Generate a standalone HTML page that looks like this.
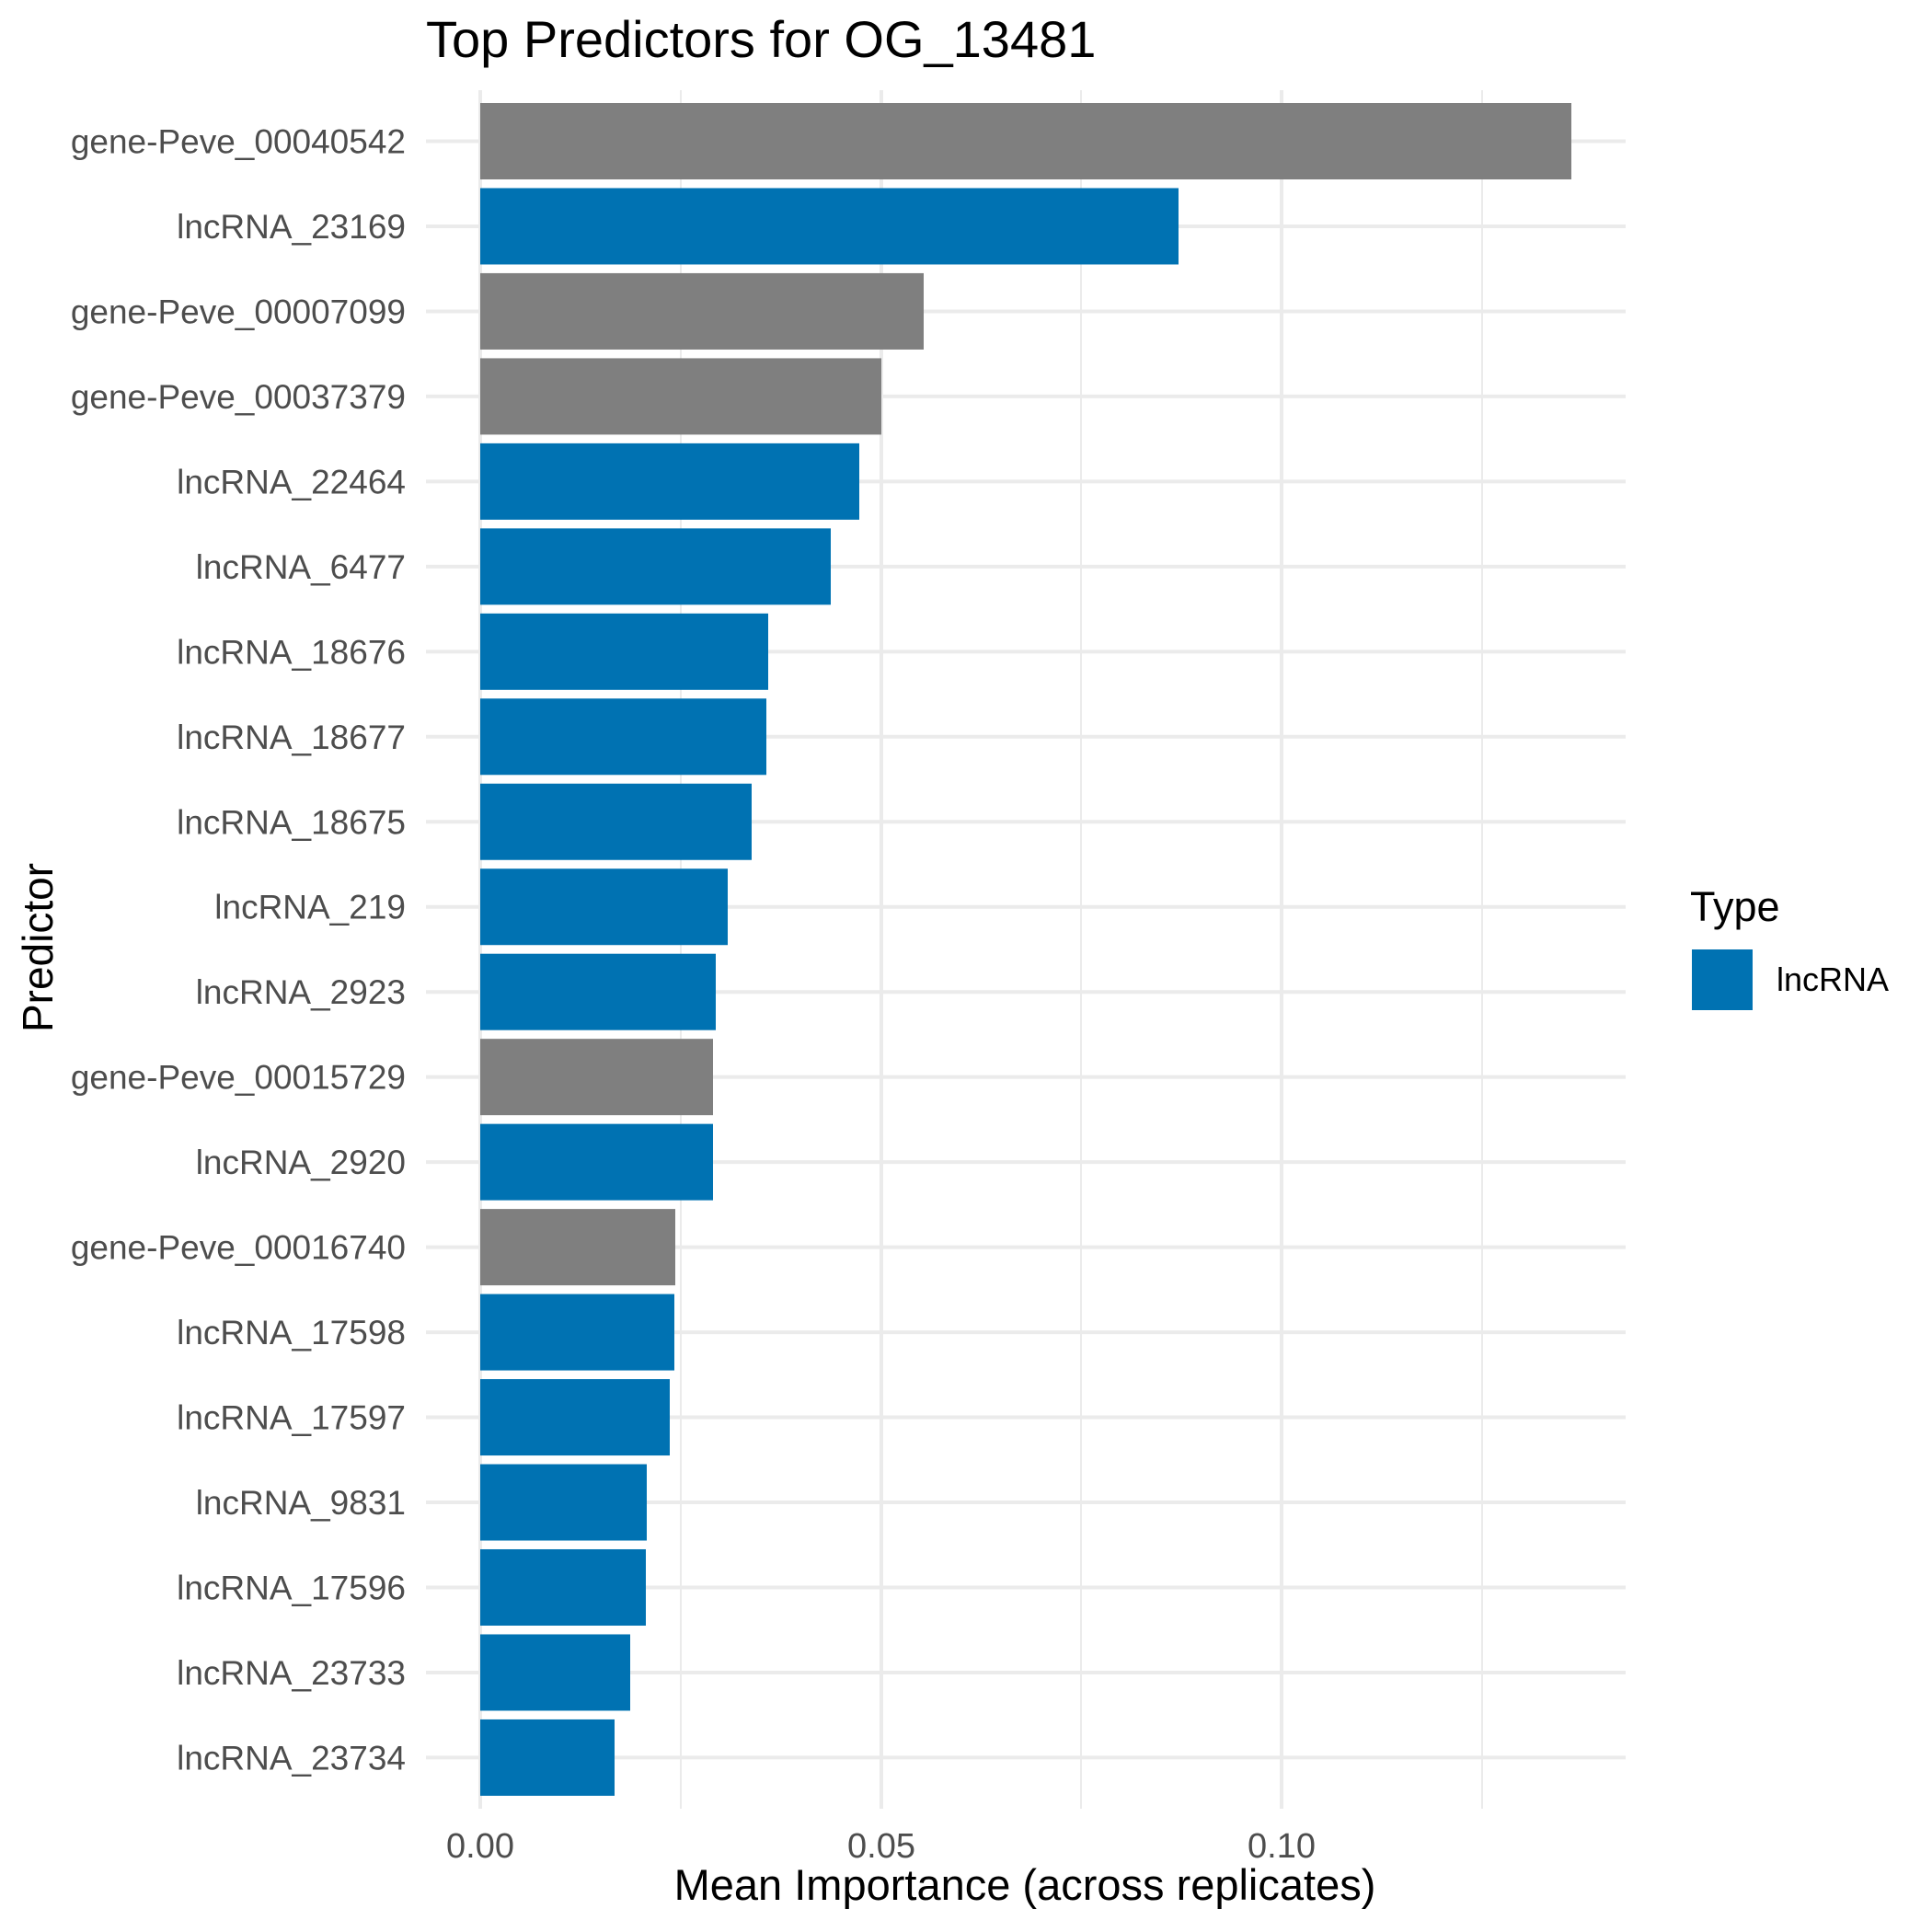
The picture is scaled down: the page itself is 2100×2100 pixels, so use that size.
<!DOCTYPE html>
<html><head><meta charset="utf-8"><style>html,body{margin:0;padding:0;background:#fff}svg{display:block}</style></head>
<body>
<svg width="2100" height="2100" viewBox="0 0 2100 2100" xmlns="http://www.w3.org/2000/svg" font-family="'Liberation Sans', sans-serif">
<rect width="2100" height="2100" fill="#fff"/>
<g stroke="#ebebeb">
<line x1="740" y1="98" x2="740" y2="1966" stroke-width="2"/>
<line x1="1175" y1="98" x2="1175" y2="1966" stroke-width="2"/>
<line x1="1611" y1="98" x2="1611" y2="1966" stroke-width="2"/>
<line x1="522" y1="98" x2="522" y2="1966" stroke-width="4"/>
<line x1="958" y1="98" x2="958" y2="1966" stroke-width="4"/>
<line x1="1393" y1="98" x2="1393" y2="1966" stroke-width="4"/>
</g>
<g id="rows"></g>
<script>
var names=["gene-Peve_00040542","lncRNA_23169","gene-Peve_00007099","gene-Peve_00037379","lncRNA_22464","lncRNA_6477","lncRNA_18676","lncRNA_18677","lncRNA_18675","lncRNA_219","lncRNA_2923","gene-Peve_00015729","lncRNA_2920","gene-Peve_00016740","lncRNA_17598","lncRNA_17597","lncRNA_9831","lncRNA_17596","lncRNA_23733","lncRNA_23734"];
var ends=[1708,1281,1004,958,934,903,835,833,817,791,778,775,775,734,733,728,703,702,685,668];
var ns="http://www.w3.org/2000/svg",g=document.getElementById("rows");
for(var i=0;i<20;i++){var c=153.5+i*92.47;
var l=document.createElementNS(ns,"line");l.setAttribute("x1",463);l.setAttribute("x2",1767);l.setAttribute("y1",c);l.setAttribute("y2",c);l.setAttribute("stroke","#ebebeb");l.setAttribute("stroke-width",4);g.appendChild(l);}
for(var i=0;i<20;i++){var c=153.5+i*92.47;
var r=document.createElementNS(ns,"rect");r.setAttribute("x",522);r.setAttribute("y",c-41.5);r.setAttribute("width",ends[i]-522);r.setAttribute("height",83);r.setAttribute("fill",names[i].indexOf("gene")==0?"#7f7f7f":"#0072b2");g.appendChild(r);
var t=document.createElementNS(ns,"text");t.setAttribute("x",441);t.setAttribute("y",c+13);t.setAttribute("font-size",37);t.setAttribute("fill","#4d4d4d");t.setAttribute("text-anchor","end");t.textContent=names[i];g.appendChild(t);}
</script>
<g font-size="38" fill="#4d4d4d" text-anchor="middle">
<text x="522" y="2019">0.00</text>
<text x="958" y="2019">0.05</text>
<text x="1393" y="2019">0.10</text>
</g>
<text x="463" y="62" font-size="56" fill="#000">Top Predictors for OG_13481</text>
<text x="1114" y="2065" font-size="47" fill="#000" text-anchor="middle">Mean Importance (across replicates)</text>
<text transform="translate(57,1030) rotate(-90)" font-size="46" fill="#000" text-anchor="middle">Predictor</text>
<text x="1837" y="1001" font-size="45" fill="#000">Type</text>
<rect x="1839" y="1032" width="66" height="66" fill="#0072b2"/>
<text x="1931" y="1077" font-size="36" fill="#000">lncRNA</text>
</svg>
</body></html>
